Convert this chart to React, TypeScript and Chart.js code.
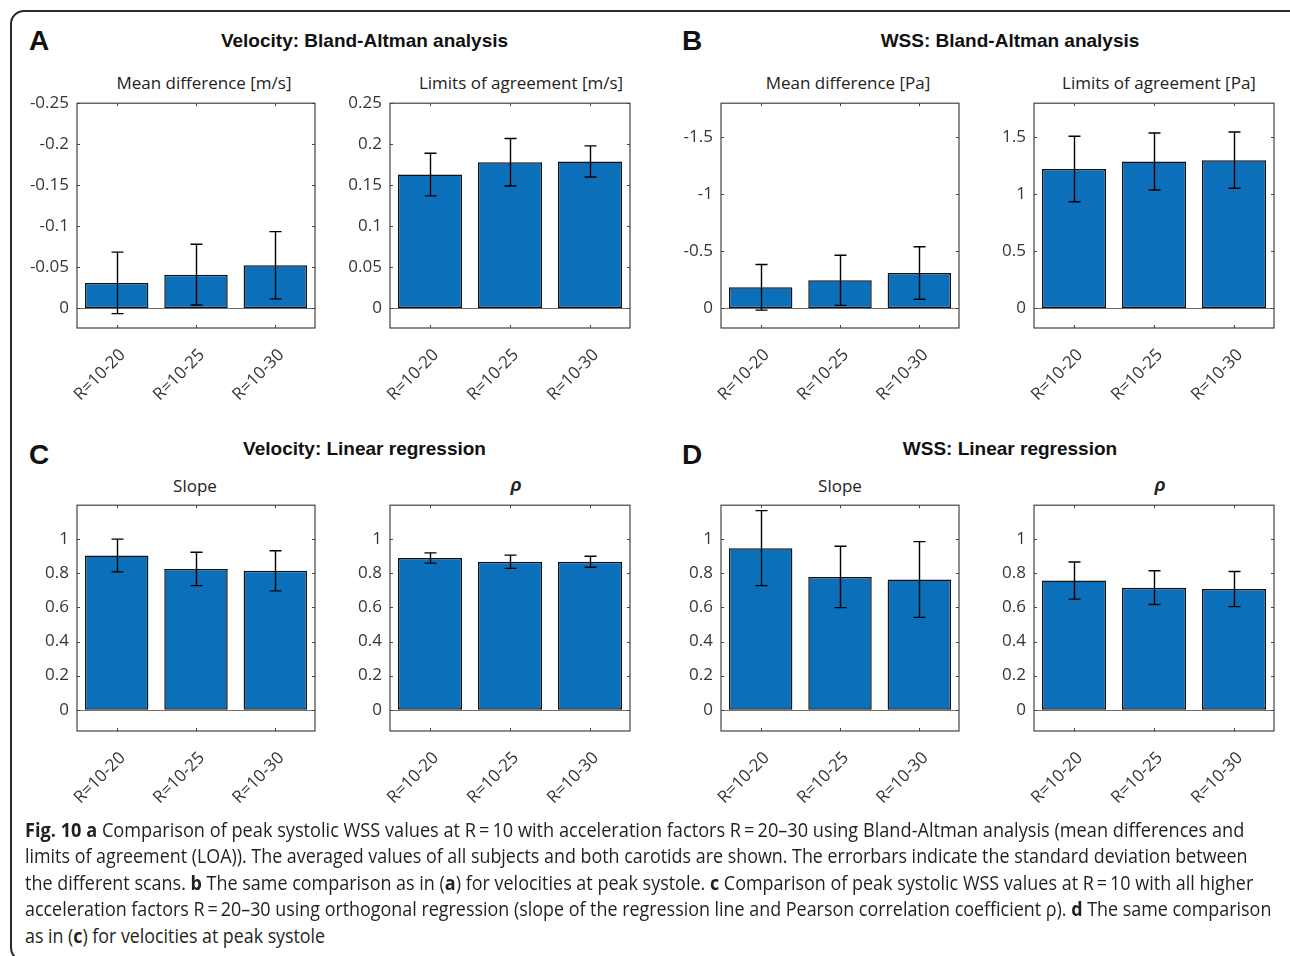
import React, { useEffect, useLayoutEffect, useRef } from "react";
import { Chart, registerables } from "chart.js";

Chart.register(...registerables);

// ---------------- data ----------------
const categories = ["R=10-20", "R=10-25", "R=10-30"];

const velMeanDiff = [-0.031, -0.041, -0.0525];
const velMeanDiffSD = [0.0375, 0.037, 0.041];
const velLoa = [0.163, 0.178, 0.179];
const velLoaSD = [0.026, 0.029, 0.019];
const wssMeanDiff = [-0.183, -0.245, -0.309];
const wssMeanDiffSD = [0.2, 0.22, 0.23];
const wssLoa = [1.222, 1.288, 1.3];
const wssLoaSD = [0.288, 0.25, 0.247];
const velSlope = [0.905, 0.826, 0.815];
const velSlopeSD = [0.096, 0.098, 0.118];
const velRho = [0.89, 0.868, 0.868];
const velRhoSD = [0.03, 0.039, 0.032];
const wssSlope = [0.948, 0.779, 0.764];
const wssSlopeSD = [0.22, 0.18, 0.222];
const wssRho = [0.758, 0.716, 0.708];
const wssRhoSD = [0.109, 0.099, 0.103];

const velMeanDiffTicks = [-0.25, -0.2, -0.15, -0.1, -0.05, 0];
const velLoaTicks = [0, 0.05, 0.1, 0.15, 0.2, 0.25];
const wssMeanDiffTicks = [-1.5, -1, -0.5, 0];
const wssLoaTicks = [0, 0.5, 1, 1.5];
const regressionTicks = [0, 0.2, 0.4, 0.6, 0.8, 1];

const velMeanDiffLimits = [-0.25, 0.024];
const velLoaLimits = [-0.024, 0.25];
const wssMeanDiffLimits = [-1.8, 0.174];
const wssLoaLimits = [-0.174, 1.8];
const regressionLimits = [-0.125, 1.2];

const captionLines = [
  [["b", "Fig. 10 a"], ["n", " Comparison of peak systolic WSS values at R\u2009=\u200910 with acceleration factors R\u2009=\u200920\u201330 using Bland-Altman analysis (mean differences and"]],
  [["n", "limits of agreement (LOA)). The averaged values of all subjects and both carotids are shown. The errorbars indicate the standard deviation between"]],
  [["n", "the different scans. "], ["b", "b"], ["n", " The same comparison as in ("], ["b", "a"], ["n", ") for velocities at peak systole. "], ["b", "c"], ["n", " Comparison of peak systolic WSS values at R\u2009=\u200910 with all higher"]],
  [["n", "acceleration factors R\u2009=\u200920\u201330 using orthogonal regression (slope of the regression line and Pearson correlation coefficient \u03c1). "], ["b", "d"], ["n", " The same comparison"]],
  [["n", "as in ("], ["b", "c"], ["n", ") for velocities at peak systole"]],
];

// ---------------- layout ----------------
const COLS = [
  { l: 77, r: 315 },
  { l: 390, r: 630 },
  { l: 721, r: 959 },
  { l: 1034, r: 1274 },
];
const ROWS = [
  { t: 101, b: 328 },
  { t: 503, b: 731 },
];
const Y_W = 70;
const PAD_T = 16;
const PAD_R = 12;
const X_H = 95;

const SANS = "'Open Sans', 'Noto Sans', sans-serif";
const ARIAL = "'Liberation Sans', Arial, sans-serif";
const BAR_BLUE = "#0b70b9";
const AXIS_COL = "#444444";
const TICK_TXT = "#363636";

// ---------------- plugins ----------------
const matlabBox = {
  id: "matlabBox",
  beforeDatasetsDraw(chart: any) {
    const { ctx, chartArea: a, scales } = chart;
    const y0 = Math.round(scales.y.getPixelForValue(0)) + 0.5;
    ctx.save();
    ctx.strokeStyle = "#6e6e6e";
    ctx.lineWidth = 1;
    ctx.beginPath();
    ctx.moveTo(a.left, y0);
    ctx.lineTo(a.right, y0);
    ctx.stroke();
    ctx.restore();
  },
  afterDraw(chart: any) {
    const { ctx, chartArea: a, scales } = chart;
    const TL = 3;
    ctx.save();
    ctx.strokeStyle = AXIS_COL;
    ctx.lineWidth = 1.2;
    ctx.strokeRect(a.left, a.top, a.right - a.left, a.bottom - a.top);
    ctx.lineWidth = 1;
    ctx.beginPath();
    scales.y.ticks.forEach((t: any) => {
      const py = Math.round(scales.y.getPixelForValue(t.value)) + 0.5;
      ctx.moveTo(a.left, py);
      ctx.lineTo(a.left + TL, py);
      ctx.moveTo(a.right, py);
      ctx.lineTo(a.right - TL, py);
    });
    scales.x.ticks.forEach((_t: any, i: number) => {
      const px = Math.round(scales.x.getPixelForTick(i)) + 0.5;
      ctx.moveTo(px, a.bottom);
      ctx.lineTo(px, a.bottom - TL);
      ctx.moveTo(px, a.top);
      ctx.lineTo(px, a.top + TL);
    });
    ctx.stroke();
    ctx.restore();
  },
};

const errorBars = {
  id: "errorBars",
  afterDatasetsDraw(chart: any) {
    const { ctx, scales } = chart;
    chart.data.datasets.forEach((ds: any, di: number) => {
      const sd: number[] = ds.errorBars || [];
      const meta = chart.getDatasetMeta(di);
      ctx.save();
      ctx.strokeStyle = "#000";
      ctx.lineWidth = 1.4;
      meta.data.forEach((el: any, i: number) => {
        const v = ds.data[i];
        const e = sd[i];
        if (e == null) return;
        const x = Math.round(el.x) + 0.5;
        const yHi = scales.y.getPixelForValue(v + e);
        const yLo = scales.y.getPixelForValue(v - e);
        const cap = 6;
        ctx.beginPath();
        ctx.moveTo(x, yHi);
        ctx.lineTo(x, yLo);
        ctx.moveTo(x - cap, yHi);
        ctx.lineTo(x + cap, yHi);
        ctx.moveTo(x - cap, yLo);
        ctx.lineTo(x + cap, yLo);
        ctx.stroke();
      });
      ctx.restore();
    });
  },
};

// ---------------- components ----------------
type PanelProps = {
  col: number;
  row: number;
  values: number[];
  sd: number[];
  ticks: number[];
  limits: number[];
  reverse?: boolean;
};

function BarPanel({ col, row, values, sd, ticks, limits, reverse }: PanelProps) {
  const ref = useRef<HTMLCanvasElement>(null);
  const c = COLS[col];
  const r = ROWS[row];
  const width = c.r - c.l + Y_W + PAD_R;
  const height = r.b - r.t + PAD_T + X_H;
  useEffect(() => {
    if (!ref.current) return;
    const chart = new Chart(ref.current, {
      type: "bar",
      data: {
        labels: categories,
        datasets: [
          {
            data: values,
            backgroundColor: BAR_BLUE,
            borderColor: "#111111",
            borderWidth: 1.5,
            borderSkipped: false,
            categoryPercentage: 0.8,
            barPercentage: 1.0,
            errorBars: sd,
          } as any,
        ],
      },
      options: {
        responsive: false,
        animation: false,
        devicePixelRatio: 1,
        layout: { padding: { top: PAD_T, right: PAD_R, left: 0, bottom: 0 } },
        plugins: {
          legend: { display: false },
          tooltip: { enabled: false },
          title: { display: false },
        },
        scales: {
          x: {
            grid: { display: false, drawTicks: false },
            border: { display: false },
            ticks: {
              minRotation: 45,
              maxRotation: 45,
              autoSkip: false,
              padding: 17,
              labelOffset: 6,
              color: TICK_TXT,
              font: { family: SANS, size: 17 },
            },
            afterFit: (s: any) => {
              s.height = X_H;
            },
          },
          y: {
            min: limits[0],
            max: limits[1],
            reverse: !!reverse,
            grid: { display: false, drawTicks: false },
            border: { display: false },
            afterBuildTicks: (s: any) => {
              s.ticks = ticks.map((v) => ({ value: v }));
            },
            ticks: {
              padding: 8,
              color: TICK_TXT,
              font: { family: SANS, size: 17 },
              callback: (v: any) => String(v),
            },
            afterFit: (s: any) => {
              s.width = Y_W;
            },
          },
        },
      } as any,
      plugins: [matlabBox, errorBars],
    });
    return () => chart.destroy();
  }, []);
  return (
    <canvas
      ref={ref}
      width={width}
      height={height}
      style={{
        position: "absolute",
        left: c.l - Y_W,
        top: r.t - PAD_T,
        width,
        height,
      }}
    />
  );
}

function Label({
  text,
  cx,
  left,
  baseline,
  size,
  family,
  weight,
  italic,
  color,
}: {
  text: string;
  cx?: number;
  left?: number;
  baseline: number;
  size: number;
  family: string;
  weight?: number;
  italic?: boolean;
  color?: string;
}) {
  const asc = family === SANS ? 0.888 : 0.8465;
  const style: React.CSSProperties = {
    position: "absolute",
    top: baseline - asc * size,
    fontSize: size,
    lineHeight: `${size}px`,
    fontFamily: family,
    fontWeight: weight || 400,
    fontStyle: italic ? "italic" : "normal",
    color: color || "#222",
    whiteSpace: "nowrap",
  };
  if (cx != null) {
    style.left = cx;
    style.transform = "translateX(-50%)";
  } else {
    style.left = left;
  }
  return <div style={style}>{text}</div>;
}

const CAPTION_WIDTHS = [1219, 1223, 1228, 1246, 300];
const CAPTION_BASELINES = [837.5, 864, 890.5, 917, 943.5];
const CAP_SIZE = 20;

function Caption() {
  const refs = useRef<(HTMLDivElement | null)[]>([]);
  useLayoutEffect(() => {
    refs.current.forEach((el, i) => {
      if (!el) return;
      const w = el.scrollWidth;
      if (w > 0) el.style.transform = `scaleX(${CAPTION_WIDTHS[i] / w})`;
    });
  }, []);
  return (
    <>
      {captionLines.map((parts, i) => (
        <div
          key={i}
          ref={(el) => {
            refs.current[i] = el;
          }}
          style={{
            position: "absolute",
            left: 25,
            top: CAPTION_BASELINES[i] - 0.888 * CAP_SIZE,
            fontFamily: SANS,
            fontSize: CAP_SIZE,
            lineHeight: `${CAP_SIZE}px`,
            color: "#231f20",
            whiteSpace: "nowrap",
            transformOrigin: "0 0",
            display: "inline-block",
          }}
        >
          {parts.map(([k, t], j) => (
            <span key={j} style={{ fontWeight: k === "b" ? 700 : 400 }}>
              {t}
            </span>
          ))}
        </div>
      ))}
    </>
  );
}

export default function App() {
  return (
    <div
      style={{
        position: "absolute",
        left: 0,
        top: 0,
        width: 1290,
        height: 956,
        overflow: "hidden",
        background: "#fff",
      }}
    >
      <div
        style={{
          position: "absolute",
          left: 10,
          top: 10,
          width: 1296,
          height: 952,
          border: "2px solid #2a2a2a",
          borderRadius: 14,
          boxSizing: "border-box",
        }}
      />

      {/* panel letters */}
      <Label text="A" left={29} baseline={51} size={28} family={ARIAL} weight={700} color="#111" />
      <Label text="B" left={682} baseline={51} size={28} family={ARIAL} weight={700} color="#111" />
      <Label text="C" left={29} baseline={465} size={28} family={ARIAL} weight={700} color="#111" />
      <Label text="D" left={682} baseline={465} size={28} family={ARIAL} weight={700} color="#111" />

      {/* group headings */}
      <Label text="Velocity: Bland-Altman analysis" cx={364.5} baseline={47.5} size={19} family={ARIAL} weight={700} color="#111" />
      <Label text="WSS: Bland-Altman analysis" cx={1010} baseline={47.5} size={19} family={ARIAL} weight={700} color="#111" />
      <Label text="Velocity: Linear regression" cx={364.5} baseline={455} size={19} family={ARIAL} weight={700} color="#111" />
      <Label text="WSS: Linear regression" cx={1010} baseline={455} size={19} family={ARIAL} weight={700} color="#111" />

      {/* subplot titles */}
      <Label text="Mean difference [m/s]" cx={204} baseline={89.3} size={17} family={SANS} />
      <Label text="Limits of agreement [m/s]" cx={521} baseline={89.3} size={17} family={SANS} />
      <Label text="Mean difference [Pa]" cx={848} baseline={89.3} size={17} family={SANS} />
      <Label text="Limits of agreement [Pa]" cx={1159} baseline={89.3} size={17} family={SANS} />
      <Label text="Slope" cx={195} baseline={491.7} size={17} family={SANS} />
      <Label text={"\u03c1"} cx={516} baseline={491.7} size={18} family={ARIAL} weight={700} italic />
      <Label text="Slope" cx={840} baseline={491.7} size={17} family={SANS} />
      <Label text={"\u03c1"} cx={1160} baseline={491.7} size={18} family={ARIAL} weight={700} italic />

      {/* charts */}
      <BarPanel col={0} row={0} values={velMeanDiff} sd={velMeanDiffSD} ticks={velMeanDiffTicks} limits={velMeanDiffLimits} reverse />
      <BarPanel col={1} row={0} values={velLoa} sd={velLoaSD} ticks={velLoaTicks} limits={velLoaLimits} />
      <BarPanel col={2} row={0} values={wssMeanDiff} sd={wssMeanDiffSD} ticks={wssMeanDiffTicks} limits={wssMeanDiffLimits} reverse />
      <BarPanel col={3} row={0} values={wssLoa} sd={wssLoaSD} ticks={wssLoaTicks} limits={wssLoaLimits} />
      <BarPanel col={0} row={1} values={velSlope} sd={velSlopeSD} ticks={regressionTicks} limits={regressionLimits} />
      <BarPanel col={1} row={1} values={velRho} sd={velRhoSD} ticks={regressionTicks} limits={regressionLimits} />
      <BarPanel col={2} row={1} values={wssSlope} sd={wssSlopeSD} ticks={regressionTicks} limits={regressionLimits} />
      <BarPanel col={3} row={1} values={wssRho} sd={wssRhoSD} ticks={regressionTicks} limits={regressionLimits} />

      <Caption />
    </div>
  );
}
